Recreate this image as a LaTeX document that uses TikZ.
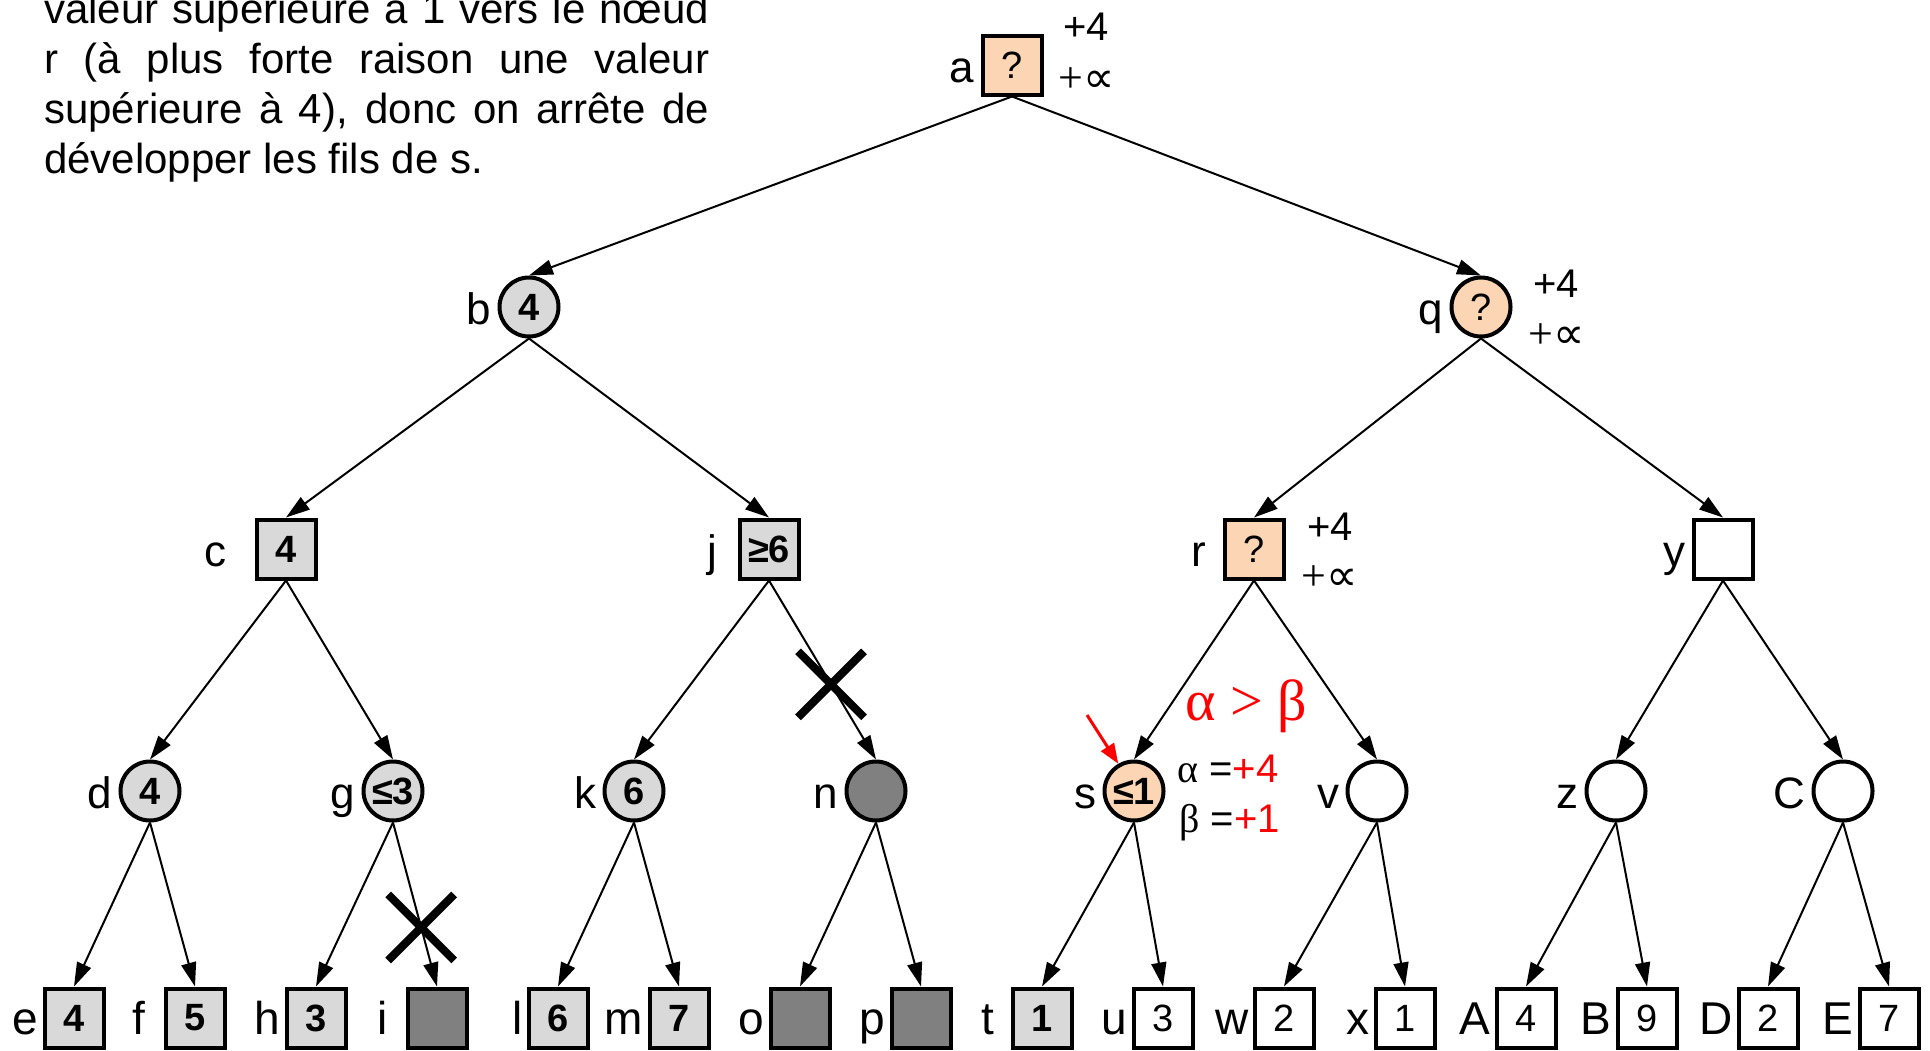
\documentclass[tikz,border=0pt]{standalone}
\usepackage{fontspec}
\setmainfont{Liberation Sans}
\newfontfamily\grec{Liberation Serif}
\newfontfamily\symb{DejaVu Sans}
\usepackage{tikz}
\usetikzlibrary{arrows.meta,shapes.misc}
\usepackage{xcolor}
\definecolor{orangeclair}{RGB}{252,213,180}
\definecolor{grisclair}{RGB}{217,217,217}
\definecolor{grisfonce}{RGB}{128,128,128}
\newcommand{\taille}[1]{\fontsize{#1}{#1}\selectfont}

\begin{document}
\begin{tikzpicture}[x=1pt,y=-1pt,
  noeud/.style={draw,line width=4pt,minimum size=59pt,inner sep=0pt,font=\taille{38}\bfseries},
  maxn/.style={noeud,rectangle},
  minn/.style={noeud,circle},
  gris/.style={fill=grisclair},
  fonce/.style={fill=grisfonce},
  orangef/.style={fill=orangeclair,font=\taille{38}\mdseries},
  blanc/.style={fill=white,font=\taille{38}\mdseries},
  lbl/.style={font=\taille{44}\mdseries,inner sep=6pt,text height=34pt,text depth=0pt},
  flbl/.style={font=\taille{46}\mdseries,inner sep=4pt,text height=33pt,text depth=0pt},
  fleche/.style={draw,line width=2pt,-{Triangle[length=24pt,width=15pt]}},
  croix/.style={cross out,draw,line width=8pt,minimum size=58pt,inner sep=0pt},
  borne/.style={anchor=base west,inner sep=0pt,font=\taille{40}},
  infini/.style={anchor=base west,inner sep=0pt,font=\taille{44}},
  rouge/.style={anchor=base west,inner sep=0pt,text=red},
]
  \useasboundingbox (0,0) rectangle (1930,1050);

  % 説明文
  \node[anchor=base west,inner sep=0pt,text width=665pt,align=justify,
        font={\fontsize{42}{50}\selectfont\tolerance=10000}] (expl) at (44,23)
    {valeur supérieure à 1 vers le nœud\linebreak
     r (à plus forte raison une valeur\linebreak
     supérieure à 4), donc on arrête de\linebreak
     développer les fils de s.};

  % 根と第1層
  \node[maxn,orangef,label={[lbl]left:a}] (a) at (1012,65) {?};
  \node[minn,gris,label={[lbl]left:b}] (b) at (529,307) {4};
  \node[minn,orangef,label={[lbl]left:q}] (q) at (1481,307) {?};

  % 第2層
  \node[maxn,gris,label={[lbl,label distance=22pt]left:c}] (c) at (286,549) {4};
  \node[maxn,gris,label={[lbl,label distance=14pt]left:j}] (j) at (769,549) {≥6};
  \node[maxn,orangef,label={[lbl,label distance=10pt]left:r}] (r) at (1254,549) {?};
  \node[maxn,blanc,label={[lbl]left:y}] (y) at (1723,549) {};

  % 第3層
  \node[minn,gris,label={[lbl]left:d}] (d) at (150,791) {4};
  \node[minn,gris,label={[lbl]left:g}] (g) at (393,791) {≤3};
  \node[minn,gris,label={[lbl]left:k}] (k) at (634,791) {6};
  \node[minn,fonce,label={[lbl]left:n}] (n) at (876,791) {};
  \node[minn,orangef,font=\taille{38}\bfseries,label={[lbl]left:s}] (s) at (1134,791) {≤1};
  \node[minn,blanc,label={[lbl]left:v}] (v) at (1377,791) {};
  \node[minn,blanc,label={[lbl]left:z}] (z) at (1616,791) {};
  \node[minn,blanc,label={[lbl]left:C}] (C) at (1843,791) {};

  % 葉
  \node[maxn,gris,label={[flbl]left:e}] (e) at (74,1018) {4};
  \node[maxn,gris,label={[flbl,label distance=14pt]left:f}] (f) at (195,1018) {5};
  \node[maxn,gris,label={[flbl]left:h}] (h) at (316,1018) {3};
  \node[maxn,fonce,label={[flbl,label distance=14pt]left:i}] (i) at (437,1018) {};
  \node[maxn,gris,label={[flbl]left:l}] (l) at (558,1018) {6};
  \node[maxn,gris,label={[flbl]left:m}] (m) at (679,1018) {7};
  \node[maxn,fonce,label={[flbl]left:o}] (o) at (800,1018) {};
  \node[maxn,fonce,label={[flbl]left:p}] (p) at (921,1018) {};
  \node[maxn,gris,label={[flbl,label distance=12pt]left:t}] (t) at (1042,1018) {1};
  \node[maxn,blanc,label={[flbl]left:u}] (u) at (1163,1018) {3};
  \node[maxn,blanc,label={[flbl]left:w}] (w) at (1284,1018) {2};
  \node[maxn,blanc,label={[flbl]left:x}] (x) at (1405,1018) {1};
  \node[maxn,blanc,label={[flbl]left:A}] (A) at (1526,1018) {4};
  \node[maxn,blanc,label={[flbl]left:B}] (B) at (1647,1018) {9};
  \node[maxn,blanc,label={[flbl]left:D}] (D) at (1768,1018) {2};
  \node[maxn,blanc,label={[flbl]left:E}] (E) at (1889,1018) {7};

  % 枝
  \path (a.south) edge[fleche] (b.north) edge[fleche] (q.north);
  \path (b.south) edge[fleche] (c.north) edge[fleche] (j.north);
  \path (q.south) edge[fleche] (r.north) edge[fleche] (y.north);
  \path (c.south) edge[fleche] (d.north) edge[fleche] (g.north);
  \path (j.south) edge[fleche] (k.north) edge[fleche] node[croix,pos=0.58] (coupe1) {} (n.north);
  \path (r.south) edge[fleche] (s.north) edge[fleche] (v.north);
  \path (y.south) edge[fleche] (z.north) edge[fleche] (C.north);
  \path (d.south) edge[fleche] (e.north) edge[fleche] (f.north);
  \path (g.south) edge[fleche] (h.north) edge[fleche] node[croix,pos=0.64] (coupe2) {} (i.north);
  \path (k.south) edge[fleche] (l.north) edge[fleche] (m.north);
  \path (n.south) edge[fleche] (o.north) edge[fleche] (p.north);
  \path (s.south) edge[fleche] (t.north) edge[fleche] (u.north);
  \path (v.south) edge[fleche] (w.north) edge[fleche] (x.north);
  \path (z.south) edge[fleche] (A.north) edge[fleche] (B.north);
  \path (C.south) edge[fleche] (D.north) edge[fleche] (E.north);

  % 区間 [alpha, beta]
  \node[borne] (aplus) at (1063,40) {+4};
  \node[infini] (ainf) at (1058,92) {{\grec +}{\symb ∝}};
  \node[borne] (qplus) at (1533,297) {+4};
  \node[infini] (qinf) at (1528,348) {{\grec +}{\symb ∝}};
  \node[borne] (rplus) at (1307,540) {+4};
  \node[infini] (rinf) at (1301,590) {{\grec +}{\symb ∝}};

  % 枝刈り
  \node[rouge,font=\taille{58}\grec] (cond) at (1185,720) {α > β};
  \node[borne,font=\taille{40}] (alpha) at (1177,782) {{\grec α} =\textcolor{red}{+4}};
  \node[borne,font=\taille{40}] (beta) at (1179,832) {{\grec β} =\textcolor{red}{+1}};
  \coordinate (pointe) at (1087,715);
  \draw[red,line width=3pt,-{Triangle[length=20pt,width=15pt]}] (pointe) -- (s.120);
\end{tikzpicture}
\end{document}
